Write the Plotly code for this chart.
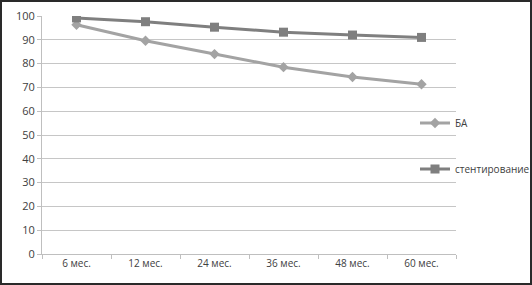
import plotly.graph_objects as go

categories = ["6 мес.", "12 мес.", "24 мес.", "36 мес.", "48 мес.", "60 мес."]
ba_values = [96.3, 89.6, 84.0, 78.5, 74.4, 71.3]
stent_values = [99.2, 97.6, 95.3, 93.2, 92.0, 91.0]
y_ticks = [0, 10, 20, 30, 40, 50, 60, 70, 80, 90, 100]

FONT = "Open Sans"
fig = go.Figure()
fig.add_trace(go.Scatter(
    x=categories, y=ba_values, name="БА", mode="lines+markers",
    line=dict(color="#a3a3a3", width=3),
    marker=dict(symbol="diamond", size=8, color="#a3a3a3"),
    legend="legend", showlegend=True,
))
fig.add_trace(go.Scatter(
    x=categories, y=stent_values, name="стентирование", mode="lines+markers",
    line=dict(color="#7f7f7f", width=3),
    marker=dict(symbol="square", size=9, color="#7f7f7f"),
    legend="legend2", showlegend=True,
))

W, H = 532, 285
L, R, T, B = 42, 76, 16, 31
pw = W - L - R
ph = H - T - B

def px_x(p):
    return (p - L) / pw

def px_y(p):
    return (H - B - p) / ph

fig.update_layout(
    width=W, height=H, showlegend=True,
    margin=dict(l=L, r=R, t=T, b=B, autoexpand=False),
    paper_bgcolor="white", plot_bgcolor="white",
    font=dict(family=FONT, size=10, color="#404040"),
    xaxis=dict(
        type="category", range=[-0.5, 5.5],
        showgrid=False, showline=True, linecolor="#bfbfbf", linewidth=1,
        ticks="outside", tickson="boundaries", ticklen=4, tickcolor="#bfbfbf",
        tickfont=dict(size=10, family=FONT, color="#404040"),
    ),
    yaxis=dict(
        range=[0, 100], tickvals=y_ticks,
        showgrid=True, gridcolor="#c6c6c6", gridwidth=1,
        showline=True, linecolor="#bfbfbf", linewidth=1,
        ticks="outside", ticklen=4, tickcolor="#bfbfbf",
        tickfont=dict(size=11, family=FONT, color="#404040"),
        zeroline=False,
    ),
    legend=dict(
        x=px_x(415), y=px_y(123), xanchor="left", yanchor="middle",
        bgcolor="rgba(0,0,0,0)", itemwidth=30,
        font=dict(size=10, family=FONT, color="#404040"),
    ),
    legend2=dict(
        x=px_x(415), y=px_y(169), xanchor="left", yanchor="middle",
        bgcolor="rgba(0,0,0,0)", itemwidth=30,
        font=dict(size=10, family=FONT, color="#404040"),
    ),
    shapes=[dict(
        type="rect", xref="paper", yref="paper",
        x0=(1 - L) / pw, x1=(W - 1 - L) / pw,
        y0=(H - B - (H - 1)) / ph, y1=(H - B - 1) / ph,
        line=dict(color="#2a2a2a", width=2), fillcolor="rgba(0,0,0,0)",
        layer="above",
    )],
)

fig.write_html("out.html")
